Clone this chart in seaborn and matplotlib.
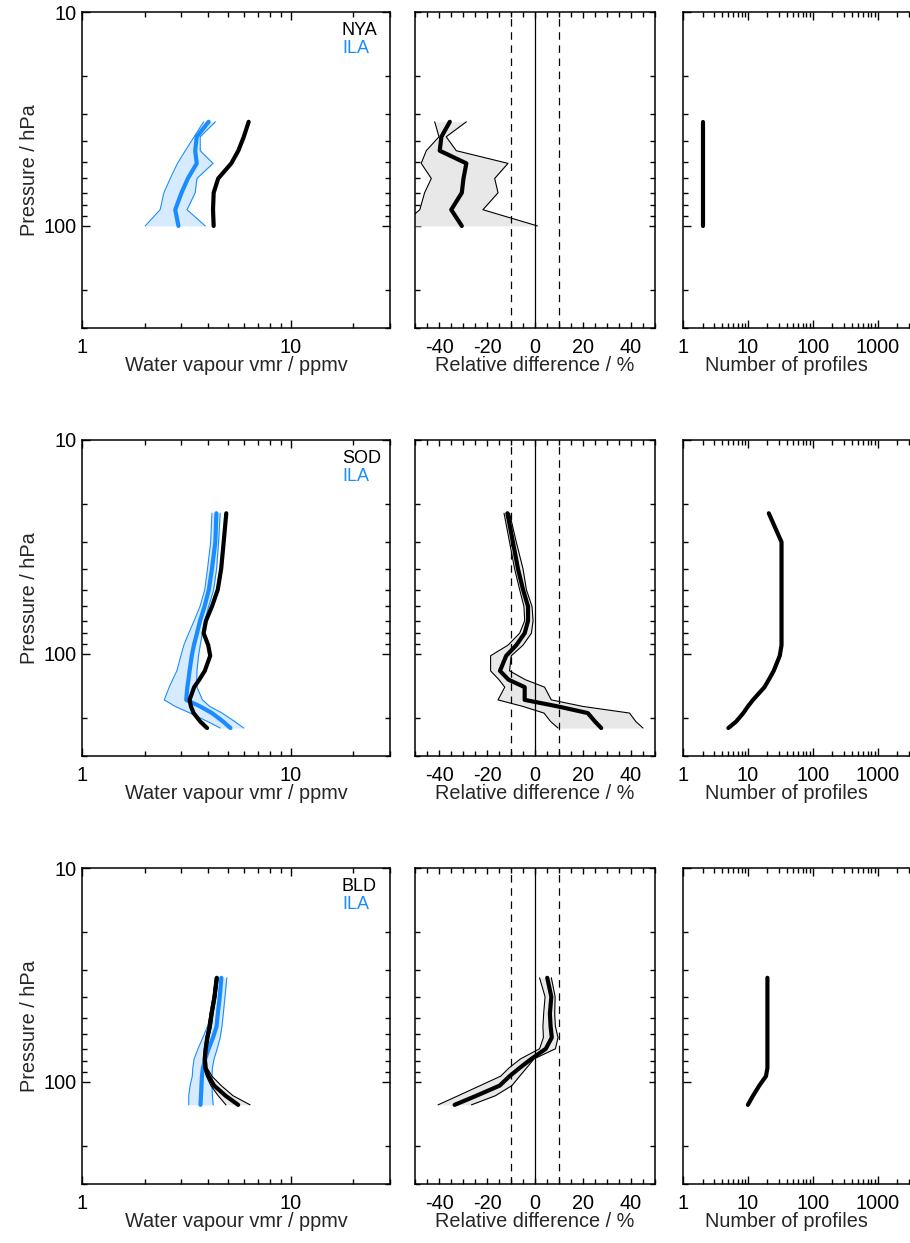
import matplotlib
matplotlib.use("Agg")
import matplotlib.pyplot as plt
import matplotlib.ticker as mticker
import seaborn as sns

sns.set_style("ticks")
plt.rcParams["font.family"] = ["Liberation Sans", "DejaVu Sans"]
plt.rcParams["axes.linewidth"] = 1.1

# ---------------- NYA vs ILA ----------------
nya_p = [32.6, 38.3, 44.5, 51, 60, 70, 84, 100]
nya_stn = [6.3, 5.97, 5.62, 5.2, 4.5, 4.28, 4.25, 4.28]
nya_ila = [4.05, 3.55, 3.49, 3.55, 3.22, 3.0, 2.8, 2.9]
nya_ila_lo = [3.83, 3.45, 3.13, 2.87, 2.65, 2.47, 2.37, 2.01]
nya_ila_hi = [4.36, 3.69, 3.69, 4.25, 3.56, 3.49, 3.19, 3.9]
nya_rel = [-35.5, -39, -39.7, -28.6, -29.8, -30.5, -34.9, -30.5]
nya_rel_lo = [-41.8, -40, -45.3, -47.4, -43.2, -46, -48, -56]
nya_rel_hi = [-28.6, -37, -32.8, -11.25, -16.8, -15.4, -21.7, 1]
nya_n = [2, 2, 2, 2, 2, 2, 2, 2]

# ---------------- SOD vs ILA ----------------
sod_p = [22, 30, 40, 50, 60, 70, 80, 91, 102, 120, 132, 143, 164, 176, 189, 207, 222]
sod_stn = [4.92, 4.78, 4.65, 4.48, 4.2, 3.93, 3.83, 4.03, 4.12, 3.88, 3.65, 3.45,
           3.28, 3.33, 3.43, 3.69, 3.98]
sod_ila = [4.41, 4.36, 4.2, 4.06, 3.87, 3.68, 3.56, 3.44, 3.36, 3.28, 3.24, 3.2,
           3.16, 3.69, 4.2, 4.75, 5.15]
sod_ila_lo = [4.2, 4.14, 4.0, 3.88, 3.68, 3.45, 3.25, 3.08, 2.98, 2.85, 2.72, 2.62,
              2.48, 2.8, 3.3, 4.0, 4.6]
sod_ila_hi = [4.6, 4.52, 4.42, 4.28, 4.05, 3.88, 3.78, 3.69, 3.62, 3.56, 3.55, 3.56,
              3.78, 4.1, 4.7, 5.4, 5.97]
sod_rel = [-11.5, -9.2, -7.1, -5, -2.9, -2.9, -4.3, -7.8, -12, -14.6, -11, -4.3,
           -4.3, 9.6, 22, 25, 27.6]
sod_rel_lo = [-12.9, -10.6, -8.5, -6.4, -4.6, -4.3, -6.4, -11.25, -18.5, -18.5, -15,
              -12.6, -15.4, -5, 3.75, 6.5, 9.6]
sod_rel_hi = [-10.6, -7.8, -5, -3.6, -1.25, -0.8, -1.5, -5, -9.9, -10.6, -4, 4,
              6.8, 20, 39.4, 42, 45]
sod_n = [21, 33, 33, 33, 33, 33, 33, 33, 31, 25, 21, 18, 12, 10, 8.5, 6.6, 5]

# ---------------- BLD vs ILA ----------------
bld_p = [32.6, 40, 48, 55, 62, 70, 78, 86, 94, 104, 116, 128]
bld_stn = [4.43, 4.32, 4.18, 4.1, 3.99, 3.92, 3.88, 3.9, 4.05, 4.3, 4.88, 5.61]
bld_stn_lo = [4.36, 4.25, 4.11, 4.03, 3.93, 3.86, 3.82, 3.84, 3.95, 4.15, 4.5, 4.9]
bld_stn_hi = [4.5, 4.39, 4.25, 4.17, 4.06, 3.98, 3.95, 3.98, 4.2, 4.65, 5.3, 6.4]
bld_ila = [4.66, 4.58, 4.48, 4.42, 4.25, 4.05, 3.9, 3.8, 3.76, 3.74, 3.72, 3.7]
bld_ila_lo = [4.45, 4.3, 4.15, 4.0, 3.8, 3.6, 3.45, 3.4, 3.38, 3.3, 3.25, 3.25]
bld_ila_hi = [4.95, 4.85, 4.76, 4.69, 4.6, 4.45, 4.3, 4.22, 4.2, 4.2, 4.22, 4.26]
bld_rel = [5.1, 6.8, 6.2, 6.5, 7.0, 4.5, -1.5, -6.4, -10.6, -14.7, -24.4, -33.5]
bld_rel_lo = [1.9, 4.2, 3.6, 3.3, 3.5, 1.9, -6, -10.8, -14.3, -22.8, -32, -40.4]
bld_rel_hi = [6.8, 8.4, 8.2, 8.5, 9.6, 8.5, -0.4, -3.5, -6.4, -9.6, -16.5, -26.5]
bld_n = [20, 20, 20, 20, 20, 20, 20, 20, 19, 15, 12, 10]

stations = [
    dict(name="NYA", p=nya_p, stn=nya_stn, stn_lo=None, stn_hi=None,
         ila=nya_ila, ila_lo=nya_ila_lo, ila_hi=nya_ila_hi,
         rel=nya_rel, rel_lo=nya_rel_lo, rel_hi=nya_rel_hi, n=nya_n),
    dict(name="SOD", p=sod_p, stn=sod_stn, stn_lo=None, stn_hi=None,
         ila=sod_ila, ila_lo=sod_ila_lo, ila_hi=sod_ila_hi,
         rel=sod_rel, rel_lo=sod_rel_lo, rel_hi=sod_rel_hi, n=sod_n),
    dict(name="BLD", p=bld_p, stn=bld_stn, stn_lo=bld_stn_lo, stn_hi=bld_stn_hi,
         ila=bld_ila, ila_lo=bld_ila_lo, ila_hi=bld_ila_hi,
         rel=bld_rel, rel_lo=bld_rel_lo, rel_hi=bld_rel_hi, n=bld_n),
]

BLUE = "#1a8cff"
BLUE_FILL = "#d6ebff"
GREY_FILL = "#e8e8e8"
THICK = 3.0
THIN = 0.8
FS = 14.3

W, H = 910, 1243
fig = plt.figure(figsize=(W / 100, H / 100), dpi=100)

col_x = [82, 415, 683]
col_w = [308, 240, 240]
row_top = [12, 440, 868]
row_h = 316


def add_ax(col, row):
    left = col_x[col] / W
    bottom = 1 - (row_top[row] + row_h) / H
    return fig.add_axes([left, bottom, col_w[col] / W, row_h / H])


def pressure_axis(ax, labels):
    ax.set_yscale("log")
    ax.set_ylim(300, 10)
    ax.yaxis.set_major_locator(mticker.FixedLocator([10, 100]))
    ax.yaxis.set_minor_locator(mticker.LogLocator(base=10, subs=range(2, 10), numticks=20))
    ax.yaxis.set_minor_formatter(mticker.NullFormatter())
    if labels:
        ax.yaxis.set_major_formatter(mticker.FixedFormatter(["10", "100"]))
        ax.set_ylabel("Pressure / hPa", fontsize=FS, labelpad=3)
    else:
        ax.yaxis.set_major_formatter(mticker.NullFormatter())
        ax.set_ylabel("")


def style_ticks(ax, major_len=5.5, minor_len=3.5):
    ax.tick_params(which="both", direction="in", top=True, right=True,
                   width=1.0, labelsize=FS, colors="black")
    ax.tick_params(which="major", length=major_len, pad=7)
    ax.tick_params(which="minor", length=minor_len)
    ax.tick_params(axis="y", which="major", pad=4)
    for s in ax.spines.values():
        s.set_color("black")


for r, st in enumerate(stations):
    p = st["p"]

    # ---- water vapour profiles ----
    ax = add_ax(0, r)
    ax.fill_betweenx(p, st["ila_lo"], st["ila_hi"], color=BLUE_FILL, lw=0, zorder=1)
    sns.lineplot(x=st["ila_lo"], y=p, sort=False, estimator=None, color=BLUE, lw=THIN, ax=ax, zorder=2)
    sns.lineplot(x=st["ila_hi"], y=p, sort=False, estimator=None, color=BLUE, lw=THIN, ax=ax, zorder=2)
    if st["stn_lo"] is not None:
        ax.fill_betweenx(p, st["stn_lo"], st["stn_hi"], color=GREY_FILL, lw=0, zorder=1.5)
        sns.lineplot(x=st["stn_lo"], y=p, sort=False, estimator=None, color="black", lw=THIN, ax=ax, zorder=2)
        sns.lineplot(x=st["stn_hi"], y=p, sort=False, estimator=None, color="black", lw=THIN, ax=ax, zorder=2)
    sns.lineplot(x=st["ila"], y=p, sort=False, estimator=None, color=BLUE, lw=THICK, ax=ax, zorder=3)
    sns.lineplot(x=st["stn"], y=p, sort=False, estimator=None, color="black", lw=THICK, ax=ax, zorder=4)
    ax.set_xscale("log")
    ax.set_xlim(1, 30)
    ax.xaxis.set_major_locator(mticker.FixedLocator([1, 10]))
    ax.xaxis.set_major_formatter(mticker.FixedFormatter(["1", "10"]))
    ax.xaxis.set_minor_locator(mticker.LogLocator(base=10, subs=range(2, 10), numticks=20))
    ax.xaxis.set_minor_formatter(mticker.NullFormatter())
    pressure_axis(ax, True)
    style_ticks(ax)
    ax.set_xlabel("Water vapour vmr / ppmv", fontsize=FS)
    ax.xaxis.set_label_coords(0.5, -0.09)
    ax.text(0.844, 0.941, st["name"], transform=ax.transAxes, fontsize=13,
            color="black", va="center", ha="left")
    ax.text(0.844, 0.884, "ILA", transform=ax.transAxes, fontsize=13,
            color=BLUE, va="center", ha="left")

    # ---- relative difference ----
    ax = add_ax(1, r)
    ax.fill_betweenx(p, st["rel_lo"], st["rel_hi"], color=GREY_FILL, lw=0, zorder=1)
    ax.axvline(0, color="black", lw=0.9, zorder=2)
    for v in (-10, 10):
        ax.axvline(v, color="black", lw=0.9, ls=(0, (6, 4.5)), zorder=2)
    sns.lineplot(x=st["rel_lo"], y=p, sort=False, estimator=None, color="black", lw=THIN, ax=ax, zorder=3)
    sns.lineplot(x=st["rel_hi"], y=p, sort=False, estimator=None, color="black", lw=THIN, ax=ax, zorder=3)
    sns.lineplot(x=st["rel"], y=p, sort=False, estimator=None, color="black", lw=THICK, ax=ax, zorder=4)
    ax.set_xlim(-50, 50)
    ax.xaxis.set_major_locator(mticker.MultipleLocator(20))
    ax.xaxis.set_minor_locator(mticker.MultipleLocator(5))
    ax.xaxis.set_major_formatter(mticker.FormatStrFormatter("%d"))
    pressure_axis(ax, False)
    style_ticks(ax, major_len=4, minor_len=3.5)
    ax.set_xlabel("Relative difference / %", fontsize=FS)
    ax.xaxis.set_label_coords(0.5, -0.09)

    # ---- number of profiles ----
    ax = add_ax(2, r)
    sns.lineplot(x=st["n"], y=p, sort=False, estimator=None, color="black", lw=THICK, ax=ax, zorder=4)
    ax.set_xscale("log")
    ax.set_xlim(1, 5000)
    ax.xaxis.set_major_locator(mticker.FixedLocator([1, 10, 100, 1000]))
    ax.xaxis.set_major_formatter(mticker.FixedFormatter(["1", "10", "100", "1000"]))
    ax.xaxis.set_minor_locator(mticker.LogLocator(base=10, subs=range(2, 10), numticks=20))
    ax.xaxis.set_minor_formatter(mticker.NullFormatter())
    pressure_axis(ax, False)
    style_ticks(ax)
    ax.set_xlabel("Number of profiles", fontsize=FS)
    ax.xaxis.set_label_coords(0.433, -0.09)

fig.savefig("out.png", dpi=100)
